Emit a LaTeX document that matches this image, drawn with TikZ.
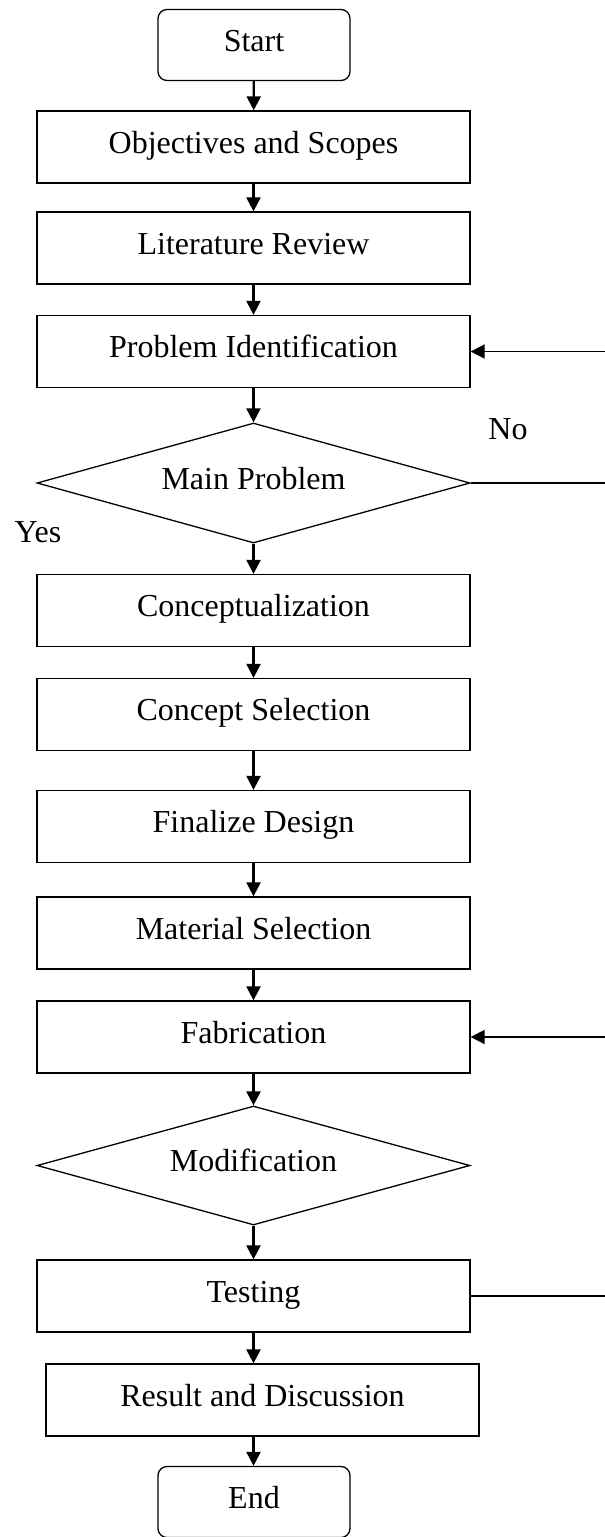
\documentclass[tikz,border=0pt]{standalone}
\usepackage{fontspec}
\setmainfont{Liberation Serif}
\usepackage{tikz}
\usetikzlibrary{positioning,arrows.meta,shapes.geometric}

\begin{document}
\begin{tikzpicture}[x=1pt, y=1pt, font=\fontsize{32}{38}\selectfont,
  procbox/.style={draw, line width=1.3pt, minimum width=433pt, minimum height=72pt,
    inner sep=0pt, text height=22pt, text depth=10pt},
  termbox/.style={procbox, rounded corners=9pt, minimum width=192pt, minimum height=71pt},
  decbox/.style={draw, diamond, line width=1.3pt, aspect=3.6, minimum width=433pt,
    minimum height=120pt, inner sep=0pt, text height=22pt, text depth=10pt},
  flow/.style={line width=2.3pt, -{Triangle[length=14pt,width=14pt]}},
  backflow/.style={line width=1.8pt, -{Triangle[length=14pt,width=14pt]}},
  back/.style={line width=1.8pt}]
  \useasboundingbox (0,0) rectangle (605,-1537);
  % Main column
  \node[termbox] (start) at (254,-45) {Start};
  \node[procbox] (obj) at (253.5,-147) {Objectives and Scopes};
  \node[procbox] (lit) at (253.5,-248) {Literature Review};
  \node[procbox] (prob) at (253.5,-351.5) {Problem Identification};
  \node[decbox] (mainp) at (253.5,-483) {Main Problem};
  \node[procbox] (concz) at (253.5,-610.5) {Conceptualization};
  \node[procbox] (concs) at (253.5,-714.5) {Concept Selection};
  \node[procbox] (final) at (253.5,-826.5) {Finalize Design};
  \node[procbox] (mat) at (253.5,-933) {Material Selection};
  \node[procbox] (fab) at (253.5,-1037) {Fabrication};
  \node[decbox, minimum height=119pt] (modif) at (253.5,-1165.5) {Modification};
  \node[procbox] (test) at (253.5,-1296) {Testing};
  \node[procbox] (result) at (262.5,-1400) {Result and Discussion};
  \node[termbox] (end) at (254,-1502) {End};
  % Labels
  \node (no) at (508,-429) {No};
  \node (yes) at (38,-532) {Yes};
  % Flow arrows
  \foreach \a/\b in {start/obj, obj/lit, lit/prob, prob/mainp, mainp/concz,
      concz/concs, concs/final, final/mat, mat/fab, fab/modif, modif/test}
    \draw[flow] (\a) -- (\b);
  \draw[flow] (test.south) -- (test.south |- result.north);
  \draw[flow] (test.south |- result.south) -- (test.south |- end.north);
  % Return lines at the right edge
  \coordinate (retA) at (605,-351.5);
  \coordinate (outA) at (605,-483);
  \coordinate (retB) at (605,-1037);
  \coordinate (outB) at (605,-1296);
  \draw[backflow] (retA) -- (prob.east);
  \draw[back] (mainp.east) -- (outA);
  \draw[backflow] (retB) -- (fab.east);
  \draw[back] (test.east) -- (outB);
\end{tikzpicture}
\end{document}
